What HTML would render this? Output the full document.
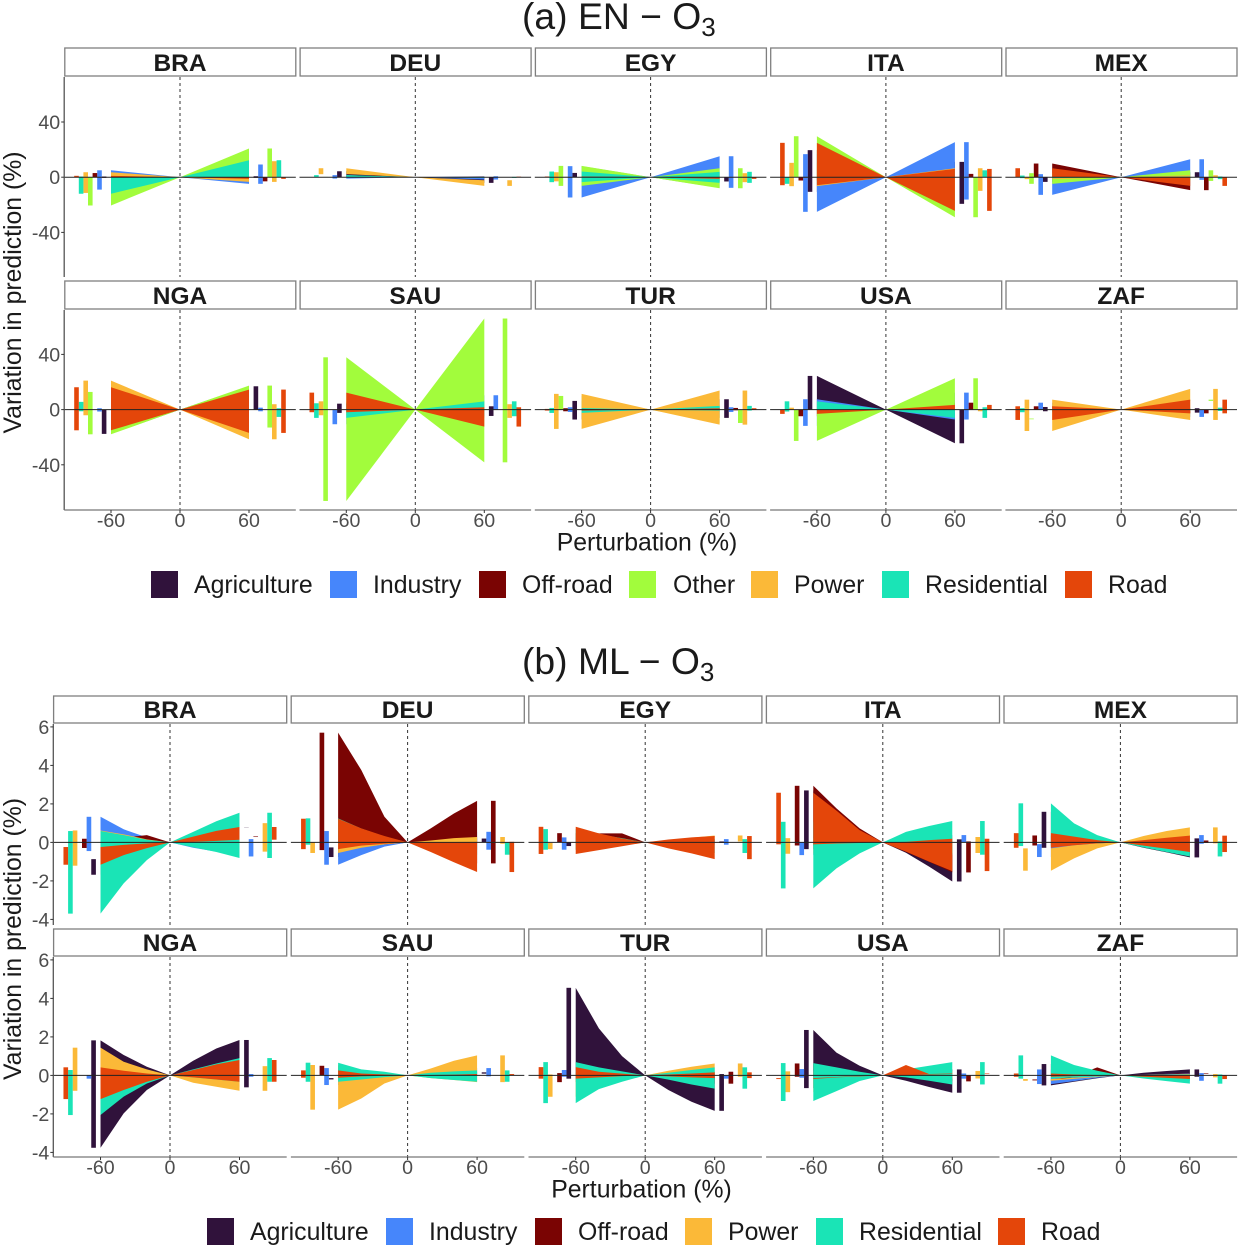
<!DOCTYPE html>
<html lang="en">
<head>
<meta charset="utf-8">
<title>Variation in prediction under emission perturbation</title>
<style>
  html, body { margin: 0; padding: 0; background: #fff; }
  svg { display: block; font-family: "Liberation Sans", sans-serif; }
</style>
</head>
<body>
<svg id="fig" xmlns="http://www.w3.org/2000/svg" width="1239" height="1246" viewBox="0 0 1239 1246">
  <rect x="0" y="0" width="1239" height="1246" fill="#fff"/>

  <text x="522" y="29" font-size="37.3" fill="#1a1a1a">(a) EN − O<tspan dy="7" font-size="26">3</tspan></text>
  <text transform="translate(21,292.5) rotate(-90)" text-anchor="middle" font-size="24.8" fill="#1a1a1a">Variation in prediction (%)</text>
  <text x="647" y="550.5" text-anchor="middle" font-size="24.8" fill="#1a1a1a">Perturbation (%)</text>

  <g font-size="24.85" fill="#1a1a1a">
    <rect x="151" y="571" width="27" height="27" fill="#30123B"/>
    <text x="194" y="593">Agriculture</text>
    <rect x="330" y="571" width="27" height="27" fill="#4686FB"/>
    <text x="373" y="593">Industry</text>
    <rect x="479" y="571" width="27" height="27" fill="#7A0403"/>
    <text x="522" y="593">Off-road</text>
    <rect x="629" y="571" width="27" height="27" fill="#A2FC3C"/>
    <text x="673" y="593">Other</text>
    <rect x="751" y="571" width="27" height="27" fill="#FBB938"/>
    <text x="794" y="593">Power</text>
    <rect x="882" y="571" width="27" height="27" fill="#1AE4B6"/>
    <text x="925" y="593">Residential</text>
    <rect x="1065" y="571" width="27" height="27" fill="#E4460A"/>
    <text x="1108" y="593">Road</text>
  </g>

  <text x="522" y="674" font-size="37.3" fill="#1a1a1a">(b) ML − O<tspan dy="7" font-size="26">3</tspan></text>
  <text transform="translate(21,939) rotate(-90)" text-anchor="middle" font-size="24.8" fill="#1a1a1a">Variation in prediction (%)</text>
  <text x="641.5" y="1197.5" text-anchor="middle" font-size="24.8" fill="#1a1a1a">Perturbation (%)</text>

  <g font-size="24.85" fill="#1a1a1a">
    <rect x="207" y="1218" width="27" height="27" fill="#30123B"/>
    <text x="250" y="1240">Agriculture</text>
    <rect x="386" y="1218" width="27" height="27" fill="#4686FB"/>
    <text x="429" y="1240">Industry</text>
    <rect x="535" y="1218" width="27" height="27" fill="#7A0403"/>
    <text x="578" y="1240">Off-road</text>
    <rect x="685" y="1218" width="27" height="27" fill="#FBB938"/>
    <text x="728" y="1240">Power</text>
    <rect x="816" y="1218" width="27" height="27" fill="#1AE4B6"/>
    <text x="859" y="1240">Residential</text>
    <rect x="998" y="1218" width="27" height="27" fill="#E4460A"/>
    <text x="1041" y="1240">Road</text>
  </g>
</svg>

<script>
/* ---------- categories and tick labels ---------- */
const countries = ['BRA', 'DEU', 'EGY', 'ITA', 'MEX', 'NGA', 'SAU', 'TUR', 'USA', 'ZAF'];
const sectors = ['Agriculture', 'Industry', 'Off-road', 'Other', 'Power', 'Residential', 'Road'];
const sectorColors = ['#30123B', '#4686FB', '#7A0403', '#A2FC3C', '#FBB938', '#1AE4B6', '#E4460A'];
const perturbationsEN = [-60, 60];
const perturbationsML = [-60, -40, -20, 20, 40, 60];
const xTicks = [-60, 0, 60];
const yTicksEN = [40, 0, -40];
const yTicksML = [6, 4, 2, 0, -2, -4];

/* ---------- (a) EN: rows follow `sectors`, columns follow perturbationsEN ---------- */
const en_BRA_lo = [[-.5,-.5],[-9,-4.8],[0,-3],[-20.5,0],[-11.4,-3.4],[-12,0],[0,-1.2]];
const en_BRA_hi = [[.5,.7],[5,9.2],[3,0],[0,20.8],[3.6,11.6],[.5,12.3],[1,0]];
const en_DEU_lo = [[0,-4.1],[-1,-1.7],[0,0],[0,0],[2.2,-6.3],[0,-.5],[0,-.2]];
const en_DEU_hi = [[4.3,0],[1.5,.7],[0,0],[.2,0],[6.5,-2.2],[1.5,.2],[0,.4]];
const en_EGY_lo = [[0,-3.1],[-14.7,-7.7],[0,0],[-6.3,-8],[-3,-3.6],[-3.6,-4.1],[-.2,-1.2]];
const en_EGY_hi = [[3.1,0],[8,15.2],[.2,.2],[8.2,6.5],[3.6,2.9],[4.1,3.9],[.5,0]];
const en_ITA_lo = [[-10.6,-19.3],[-25.1,-16.2],[-2.4,0],[0,-29],[-6.5,-9.9],[-4.8,0],[-5.8,-24.4]];
const en_ITA_hi = [[19.6,11.1],[16.7,25.4],[.2,2.4],[29.7,0],[10.4,6.5],[0,5],[24.9,6]];
const en_MEX_lo = [[-3.4,0],[-12.8,-1.9],[0,-9.4],[-4.8,-2.7],[-1.4,0],[-.7,-1.4],[0,-6.3]];
const en_MEX_hi = [[0,3.6],[2.2,13],[9.9,0],[2.9,5],[.2,1.4],[1.2,.5],[6.5,0]];
const en_NGA_lo = [[-17.6,0],[-1.4,-1.2],[0,0],[-17.9,-13],[-4.1,-21.5],[-1.2,-5.3],[-15,-16.9]];
const en_NGA_hi = [[0,16.9],[1,1.4],[0,0],[12.8,17.4],[21,3.9],[5.6,1],[16.2,14.5]];
const en_SAU_lo = [[-2.4,-4.6],[-10.6,0],[0,0],[-66.2,-38.2],[-4.1,-6],[-6,-4.8],[-1.9,-12.3]];
const en_SAU_hi = [[4.3,2.4],[0,10.4],[0,0],[37.9,66],[6,3.9],[4.6,6],[12.3,1.7]];
const en_TUR_lo = [[-7.2,-6],[-1.7,-1.7],[-1.2,-.5],[0,-9.7],[-14,-10.9],[-2.4,-.7],[-.7,-.2]];
const en_TUR_hi = [[6.3,7.5],[1.7,1.7],[1,1.2],[9.9,0],[11.4,13.8],[1.2,2.7],[.5,1]];
const en_USA_lo = [[0,-24.4],[-11.8,-7.2],[-4.8,0],[-22.7,0],[0,-1.2],[-1.4,-6],[-3.1,0]];
const en_USA_hi = [[24.4,0],[7.5,12.3],[0,5],[0,22.7],[1.4,0],[6,1.7],[0,3.4]];
const en_ZAF_lo = [[-1.2,-2.2],[0,-5.3],[0,-2.7],[-7,6.3],[-15.5,-7.5],[-1.9,-1],[-7.5,-2.7]];
const en_ZAF_hi = [[1.9,1],[5,0],[2.4,0],[-6.5,7.2],[7.2,15],[1,1.4],[2.4,7.2]];

/* ---------- (b) ML: rows follow `sectors`, columns follow perturbationsML ---------- */
const noOther = [0,0,0,0,0,0];
const ml_BRA_lo = [[-1.68,-1.05,-.42,.25,.5,.77],[-.45,-.3,-.12,-.28,-.48,-.73],[-.29,-.18,-.05,.1,.2,.28],noOther,[-1.21,-.7,-.3,-.15,-.32,-.48],[-3.7,-2.13,-.92,-.25,-.5,-.81],[-1.16,-.66,-.3,.03,.08,.14]];
const ml_BRA_hi = [[-.87,-.55,-.22,.26,.51,.78],[1.33,.68,.26,.06,.12,.17],[.19,.25,.38,.11,.21,.31],noOther,[.62,.42,.16,.33,.66,1],[.59,.38,.14,.55,1.1,1.54],[-.24,-.13,-.05,.3,.6,.8]];
const ml_DEU_lo = [[-.76,-.45,-.18,0,0,0],[-1.16,-.66,-.22,-.12,-.25,-.38],[-.4,-.25,-.1,-.36,-.72,-1.09],noOther,[-.55,-.28,-.1,-.02,-.05,-.07],[-.12,-.08,-.03,-.21,-.42,-.64],[-.35,-.17,-.07,-.5,-1.03,-1.54]];
const ml_DEU_hi = [[-.26,-.15,-.06,.07,.13,.2],[.59,.38,.14,.18,.36,.55],[5.7,3.76,1.33,.73,1.5,2.16],noOther,[0,0,0,.1,.22,.28],[1.25,.72,.3,0,0,0],[1.23,.73,.33,.01,.02,.03]];
const ml_EGY_lo = [[-.19,-.12,-.05,-.01,-.02,-.03],[-.38,-.25,-.1,-.04,-.08,-.12],[0,0,0,0,0,0],noOther,[-.35,-.22,-.08,.02,.03,.05],[-.38,-.25,-.1,-.18,-.36,-.55],[-.6,-.4,-.2,-.31,-.57,-.87]];
const ml_EGY_hi = [[0,0,0,.02,.03,.05],[.26,.16,.06,.06,.11,.17],[.48,.47,.47,0,0,0],noOther,[-.03,-.02,-.01,.12,.24,.36],[.69,.42,.22,.06,.11,.17],[.81,.47,.2,.15,.26,.33]];
const ml_ITA_lo = [[-.35,-.2,-.08,-.54,-1.26,-2.03],[-.66,-.42,-.18,0,0,0],[-.16,-.1,-.04,-.5,-1.02,-1.56],noOther,[-.59,-.38,-.15,-.18,-.36,-.55],[-2.39,-1.35,-.57,-.2,-.42,-.64],[-.1,-.06,-.03,-.48,-1,-1.49]];
const ml_ITA_hi = [[2.7,1.73,.68,.05,.1,.16],[0,0,0,.12,.25,.38],[2.94,1.77,.73,.02,.03,.05],noOther,[.22,.14,.06,.09,.18,.28],[1.07,.6,.25,.55,.85,1.11],[2.58,1.65,.64,.03,.12,.19]];
const ml_MEX_lo = [[-.28,-.18,-.06,-.28,-.52,-.78],[-.76,-.4,-.15,-.03,-.05,-.07],[-.16,-.1,-.04,-.01,-.02,-.03],noOther,[-1.47,-.83,-.31,-.02,-.03,-.05],[-.19,-.12,-.05,-.26,-.5,-.73],[-.28,-.15,-.05,-.17,-.33,-.5]];
const ml_MEX_hi = [[1.59,.8,.3,.07,.14,.21],[-.09,-.05,-.02,.13,.26,.38],[.36,.22,.1,.03,.07,.1],noOther,[-.31,-.15,-.05,.33,.59,.78],[2.03,.99,.38,.02,.03,.05],[.48,.3,.12,.12,.24,.35]];
const ml_NGA_lo = [[-3.76,-1.97,-.76,-.2,-.4,-.62],[-.17,-.1,-.04,-.02,-.05,-.07],[0,0,0,0,0,0],noOther,[-.8,-.5,-.2,-.38,-.59,-.8],[-2.06,-1.1,-.42,-.1,-.21,-.33],[-1.23,-.76,-.33,-.1,-.21,-.33]];
const ml_NGA_hi = [[1.82,1.06,.45,.76,1.4,1.84],[0,0,0,.02,.05,.07],[0,0,0,0,0,0],noOther,[1.44,.71,.31,.16,.32,.48],[.28,.18,.08,.31,.62,.9],[.42,.24,.1,.28,.57,.8]];
const ml_SAU_lo = [[-.21,-.12,-.05,.03,.06,.09],[-.5,-.3,-.12,-.02,-.03,-.05],[0,0,0,0,0,0],noOther,[-1.78,-1.2,-.42,-.14,-.24,-.35],[-.33,-.21,-.09,-.14,-.24,-.33],[-.12,-.05,-.02,0,0,0]];
const ml_SAU_hi = [[-.14,-.08,-.03,.05,.1,.16],[.38,.22,.1,.12,.25,.38],[.5,.3,.12,0,0,0],noOther,[.54,.3,.12,.36,.76,1.04],[.66,.31,.19,.14,.21,.26],[.26,.1,.05,.02,.04,.07]];
const ml_TUR_lo = [[-.17,-.1,-.04,-.76,-1.37,-1.84],[-.07,-.04,-.02,-.05,-.11,-.17],[-.35,-.22,-.1,-.14,-.28,-.43],noOther,[-1.11,-.6,-.25,-.02,-.05,-.07],[-1.44,-.71,-.33,-.22,-.47,-.69],[-.17,-.1,-.04,-.05,-.1,-.14]];
const ml_TUR_hi = [[4.55,2.44,1,.02,.05,.07],[.28,.18,.07,0,0,0],[.12,.08,.03,.06,.12,.19],noOther,[.05,.03,.01,.24,.45,.62],[.69,.42,.21,.14,.28,.42],[.43,.19,.09,.05,.1,.16]];
const ml_USA_lo = [[-.66,-.42,-.18,-.28,-.6,-.9],[-.12,-.08,-.03,-.05,-.11,-.17],[-.07,-.04,-.02,-.1,-.2,-.31],noOther,[-.87,-.55,-.22,-.05,-.1,-.16],[-1.33,-.82,-.29,-.1,-.28,-.47],[-.19,-.1,-.05,0,.05,.07]];
const ml_USA_hi = [[2.36,1.18,.5,.1,.2,.31],[.33,.2,.08,.03,.07,.1],[.62,.4,.15,0,0,0],noOther,[.21,.14,.05,.08,.15,.23],[.64,.42,.19,.31,.5,.69],[-.14,-.08,-.03,.54,.07,.1]];
const ml_ZAF_lo = [[-.52,-.33,-.15,-.02,-.05,-.07],[-.45,-.3,-.12,-.1,-.19,-.28],[-.26,-.1,0,.03,.06,.09],noOther,[-.28,-.18,-.08,-.03,-.07,-.1],[-.17,-.1,-.05,-.16,-.3,-.43],[-.07,-.04,-.02,-.07,-.13,-.19]];
const ml_ZAF_hi = [[.59,.35,.14,.14,.23,.31],[.31,.2,.08,.04,.08,.12],[-.21,-.05,.42,.04,.08,.12],noOther,[-.19,-.12,-.06,.02,.05,.07],[1.04,.54,.24,.02,.04,.05],[.1,.05,.02,0,0,0]];

const seriesEN = {
  BRA: [en_BRA_lo, en_BRA_hi], DEU: [en_DEU_lo, en_DEU_hi], EGY: [en_EGY_lo, en_EGY_hi],
  ITA: [en_ITA_lo, en_ITA_hi], MEX: [en_MEX_lo, en_MEX_hi], NGA: [en_NGA_lo, en_NGA_hi],
  SAU: [en_SAU_lo, en_SAU_hi], TUR: [en_TUR_lo, en_TUR_hi], USA: [en_USA_lo, en_USA_hi],
  ZAF: [en_ZAF_lo, en_ZAF_hi]
};
const seriesML = {
  BRA: [ml_BRA_lo, ml_BRA_hi], DEU: [ml_DEU_lo, ml_DEU_hi], EGY: [ml_EGY_lo, ml_EGY_hi],
  ITA: [ml_ITA_lo, ml_ITA_hi], MEX: [ml_MEX_lo, ml_MEX_hi], NGA: [ml_NGA_lo, ml_NGA_hi],
  SAU: [ml_SAU_lo, ml_SAU_hi], TUR: [ml_TUR_lo, ml_TUR_hi], USA: [ml_USA_lo, ml_USA_hi],
  ZAF: [ml_ZAF_lo, ml_ZAF_hi]
};

/* ---------- drawing ---------- */
const SVGNS = 'http://www.w3.org/2000/svg';
const fig = document.getElementById('fig');

function mk(tag, attrs, parent) {
  const el = document.createElementNS(SVGNS, tag);
  for (const k in attrs) el.setAttribute(k, attrs[k]);
  parent.appendChild(el);
  return el;
}

function drawChart(cfg) {
  countries.forEach((country, idx) => {
    const col = idx % 5;
    const row = Math.floor(idx / 5);
    const cx = cfg.zero0 + col * cfg.spacing;
    const zeroY = cfg.zeroY[row];
    const top = cfg.top[row];
    const bottom = cfg.bottom[row];
    const left = cx - cfg.halfWidth;
    const right = cx + cfg.halfWidth;
    const xScale = v => cx + v * cfg.xUnit;
    const yScale = v => zeroY - v * cfg.yUnit;

    const g = mk('g', {}, fig);
    
    

    const strip = mk('rect', { x: left + cfg.stripInset, y: cfg.stripTop[row], width: right - left - cfg.stripInset, height: cfg.stripHeight, fill: '#fff', stroke: '#7f7f7f', 'stroke-width': 1.3 }, g);
    
    

    const stripLabel = mk('text', { x: cx, y: cfg.stripBase[row], 'text-anchor': 'middle', 'font-size': 24.5, 'font-weight': 'bold', fill: '#1a1a1a' }, g);
    stripLabel.textContent = country;
    
    

    const vline = mk('line', { x1: cx, x2: cx, y1: top, y2: bottom, stroke: '#333', 'stroke-width': 1, 'stroke-dasharray': '3 3' }, g);
    
    

    const lo = cfg.series[country][0];
    const hi = cfg.series[country][1];
    const xs = cfg.xs;
    const half = xs.length / 2;

    sectors.forEach((sector, s) => {
      const loRow = lo[s];
      const hiRow = hi[s];
      if (loRow.every(v => v === 0) && hiRow.every(v => v === 0)) return;
      const pts = [];
      xs.forEach((x, j) => {
        if (j === half) pts.push(xScale(0) + ',' + yScale(0));
        pts.push(xScale(x) + ',' + yScale(hiRow[j]));
      });
      for (let j = xs.length - 1; j >= 0; j--) {
        pts.push(xScale(xs[j]) + ',' + yScale(loRow[j]));
        if (j === half) pts.push(xScale(0) + ',' + yScale(0));
      }
      const ribbon = mk('polygon', { points: pts.join(' '), fill: sectorColors[s] }, g);
      
      
    });

    sectors.forEach((sector, s) => {
      const last = xs.length - 1;
      [[-(66 + 4 * s), 0, 'left'], [66 + 4 * s, last, 'right']].forEach(spec => {
        const top_v = hi[s][spec[1]];
        const bot_v = lo[s][spec[1]];
        if (top_v - bot_v <= 0) return;
        const barX = xScale(spec[0]) - 2 * cfg.xUnit;
        const bar = mk('rect', { x: barX, y: yScale(top_v), width: 4 * cfg.xUnit, height: yScale(bot_v) - yScale(top_v), fill: sectorColors[s] }, g);
        
        
      });
    });

    const hline = mk('line', { x1: left, x2: right, y1: zeroY, y2: zeroY, stroke: '#222', 'stroke-width': 1 }, g);
    
    

    if (col === 0) {
      const spine = mk('line', { x1: left, x2: left, y1: top, y2: bottom, stroke: '#555', 'stroke-width': 1.3 }, g);
      
      
      cfg.yTicks.forEach(t => {
        const tick = mk('line', { x1: left - 3, x2: left, y1: yScale(t), y2: yScale(t), stroke: '#333', 'stroke-width': 1 }, g);
        
        
        const label = mk('text', { x: left - 4, y: yScale(t) + 7, 'text-anchor': 'end', 'font-size': 19.6, fill: '#4D4D4D' }, g);
        label.textContent = String(t);
        
        
      });
    }

    if (row === 1) {
      const axis = mk('line', { x1: left, x2: right, y1: bottom, y2: bottom, stroke: '#777', 'stroke-width': 1.3 }, g);
      
      
      xTicks.forEach(t => {
        const tick = mk('line', { x1: xScale(t), x2: xScale(t), y1: bottom, y2: bottom + 3, stroke: '#333', 'stroke-width': 1 }, g);
        
        
        const label = mk('text', { x: xScale(t), y: cfg.xLabelBase, 'text-anchor': 'middle', 'font-size': 19.6, fill: '#4D4D4D' }, g);
        label.textContent = String(t);
        
        
      });
    }
  });
}

drawChart({
  id: 'en', series: seriesEN, xs: perturbationsEN, yTicks: yTicksEN,
  zero0: 180, spacing: 235.3, halfWidth: 115.8, xUnit: 1.15, yUnit: 1.38,
  zeroY: [177.2, 409.6], top: [77, 310], bottom: [277, 510],
  stripTop: [48, 281], stripHeight: 28, stripBase: [71, 304], stripInset: 0.6, xLabelBase: 527
});
drawChart({
  id: 'ml', series: seriesML, xs: perturbationsML, yTicks: yTicksML,
  zero0: 170, spacing: 237.6, halfWidth: 116.7, xUnit: 1.158, yUnit: 19.25,
  zeroY: [842.4, 1075.4], top: [724, 957], bottom: [925, 1157],
  stripTop: [696, 929], stripHeight: 27, stripBase: [718, 951], stripInset: 0.3, xLabelBase: 1174
});
</script>
</body>
</html>
